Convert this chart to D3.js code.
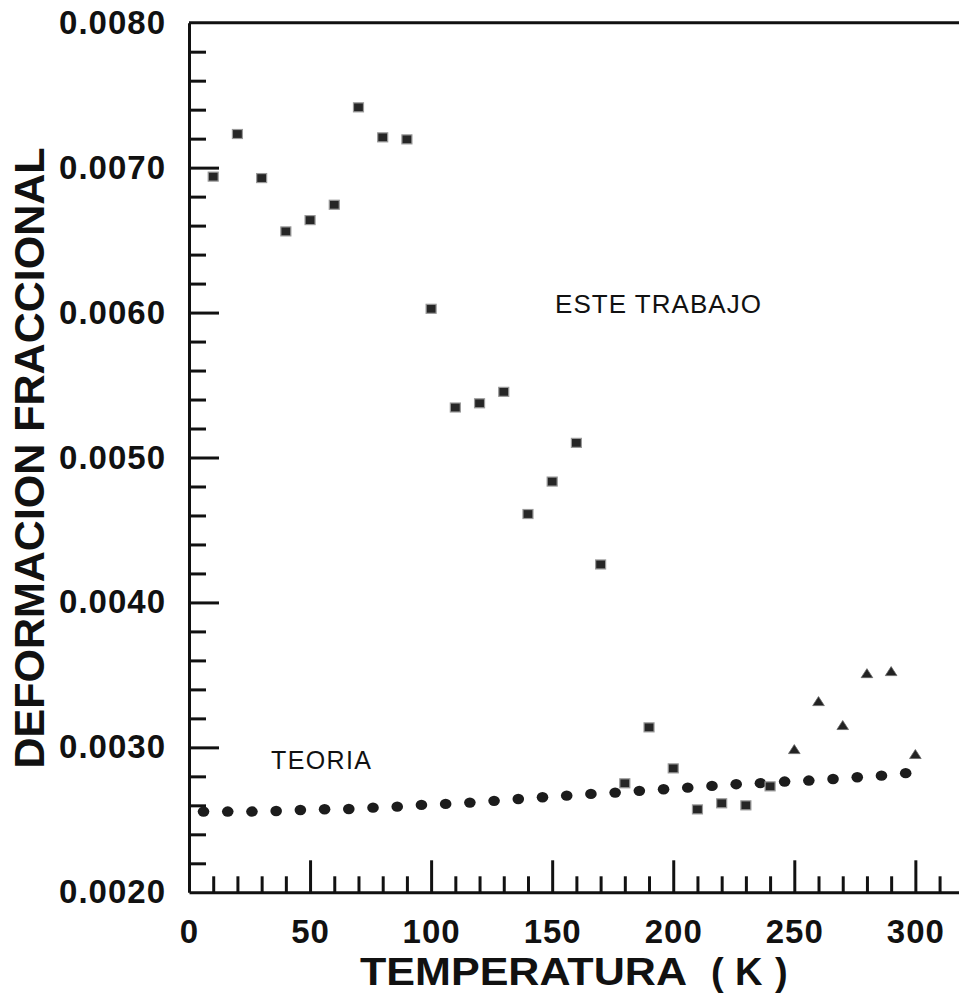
<!DOCTYPE html>
<html>
<head>
<meta charset="utf-8">
<script src="https://cdn.jsdelivr.net/npm/d3@7"></script>
<style>
  body { margin: 0; background: #fff; }
  svg { display: block; font-family: 'Liberation Sans', Arial, sans-serif; }
  .axis path, .axis line { stroke: #111; }
  .axis text { fill: #111; font-weight: bold; font-size: 33px; letter-spacing: 1px; }
</style>
</head>
<body>
<div id="chart"></div>
<script>
// este trabajo (squares)
let tempSquares = [10, 20, 30, 40, 50, 60, 70, 80, 90, 100, 110, 120, 130, 140, 150, 160, 170, 180, 190, 200, 210, 220, 230, 240]
let defSquares = [0.006938, 0.007232, 0.006928, 0.00656, 0.006638, 0.006744, 0.007416, 0.007209, 0.007195,
  0.006026, 0.005345, 0.005374, 0.005453, 0.00461, 0.004834, 0.005101, 0.004262,
  0.002752, 0.003138, 0.002855, 0.002572, 0.002614, 0.0026, 0.002731]

// este trabajo (triangles)
let tempTriangles = [250, 260, 270, 280, 290, 300]
let defTriangles = [0.002986, 0.003317, 0.003152, 0.00351, 0.003524, 0.002952]

// teoria (circles)
let tempTheory = [6, 16, 26, 36, 46, 56, 66, 76, 86, 96, 106, 116, 126, 136, 146, 156, 166, 176, 186, 196,
  206, 216, 226, 236, 246, 256, 266, 276, 286, 296]
let defTheory = [0.002557, 0.002557, 0.002557, 0.002561, 0.002568, 0.002573, 0.002575, 0.002584, 0.002591, 0.002603,
  0.00261, 0.002619, 0.002631, 0.002644, 0.002656, 0.002667, 0.002679, 0.002688, 0.0027, 0.002711,
  0.002722, 0.002734, 0.002746, 0.002753, 0.002764, 0.002771, 0.002782, 0.002794, 0.002805, 0.002822]

let xMajor = [0, 50, 100, 150, 200, 250, 300]
let xMinor = d3.range(10, 330, 10).filter(d => d % 50 !== 0)
let yMajor = [0.002, 0.003, 0.004, 0.005, 0.006, 0.007, 0.008]
let yMinor = d3.range(0.0022, 0.008, 0.0002).filter(d => Math.abs(d * 1000 - Math.round(d * 1000)) > 1e-6)

let width = 959
let height = 996

let svg = d3.select('#chart')
  .append('svg')
  .attr('width', width)
  .attr('height', height)

let x = d3.scaleLinear().domain([0, 330]).range([189, 988])
let y = d3.scaleLinear().domain([0.002, 0.008]).range([892.3, 22.7])

// minor ticks
svg.append('g')
  .attr('class', 'axis')
  .attr('transform', 'translate(0,' + y(0.002) + ')')
  .call(d3.axisBottom(x).tickValues(xMinor).tickSizeInner(-16).tickSizeOuter(0).tickFormat(''))
  .call(g => g.selectAll('line').attr('stroke-width', 3))
  .call(g => g.select('.domain').remove())

svg.append('g')
  .attr('class', 'axis')
  .attr('transform', 'translate(' + x(0) + ',0)')
  .call(d3.axisLeft(y).tickValues(yMinor).tickSizeInner(-17).tickSizeOuter(0).tickFormat(''))
  .call(g => g.selectAll('line').attr('stroke-width', 3))
  .call(g => g.select('.domain').remove())

// major ticks + labels
svg.append('g')
  .attr('class', 'axis')
  .attr('transform', 'translate(0,' + y(0.002) + ')')
  .call(d3.axisBottom(x).tickValues(xMajor).tickSizeInner(-32).tickSizeOuter(0).tickPadding(27).tickFormat(d3.format('d')))
  .call(g => g.selectAll('line').attr('stroke-width', 3))
  .call(g => g.select('.domain').attr('stroke-width', 3))
  .call(g => g.selectAll('.tick').filter(d => d === 0).select('line').remove())

svg.append('g')
  .attr('class', 'axis')
  .attr('transform', 'translate(' + x(0) + ',0)')
  .call(d3.axisLeft(y).tickValues(yMajor).tickSizeInner(-30).tickSizeOuter(0).tickPadding(23).tickFormat(d3.format('.4f')))
  .call(g => g.selectAll('line').attr('stroke-width', 3))
  .call(g => g.select('.domain').attr('stroke-width', 3))
  .call(g => g.selectAll('.tick').filter(d => d === 0.002 || d === 0.008).select('line').remove())

// top frame
svg.append('line')
  .attr('x1', x(0))
  .attr('x2', width)
  .attr('y1', y(0.008))
  .attr('y2', y(0.008))
  .attr('stroke', '#111')
  .attr('stroke-width', 3)

// teoria
svg.selectAll('.theory')
  .data(tempTheory)
  .enter()
  .append('ellipse')
  .attr('class', 'theory')
  .attr('cx', d => x(d))
  .attr('cy', (d, i) => y(defTheory[i]))
  .attr('rx', 5.8)
  .attr('ry', 5.2)
  .attr('fill', '#1c1c1c')

// squares
svg.selectAll('.square')
  .data(tempSquares)
  .enter()
  .append('rect')
  .attr('class', 'square')
  .attr('x', d => x(d) - 5)
  .attr('y', (d, i) => y(defSquares[i]) - 4.5)
  .attr('width', 10)
  .attr('height', 9)
  .attr('fill', '#262626')
  .attr('stroke', '#9a9a9a')
  .attr('stroke-width', 1.2)

// triangles
svg.selectAll('.triangle')
  .data(tempTriangles)
  .enter()
  .append('path')
  .attr('class', 'triangle')
  .attr('transform', (d, i) => 'translate(' + x(d) + ',' + y(defTriangles[i]) + ')')
  .attr('d', 'M0,-4.8L5.8,4.2L-5.8,4.2Z')
  .attr('fill', '#222')
  .attr('stroke', '#666')
  .attr('stroke-width', 0.8)

// annotations
svg.append('text')
  .attr('x', 555)
  .attr('y', 313)
  .attr('font-size', 26)
  .attr('textLength', 206)
  .attr('lengthAdjust', 'spacing')
  .attr('fill', '#111')
  .text('ESTE TRABAJO')

svg.append('text')
  .attr('x', 271)
  .attr('y', 769)
  .attr('font-size', 25)
  .attr('font-weight', 500)
  .attr('textLength', 100)
  .attr('lengthAdjust', 'spacing')
  .attr('fill', '#111')
  .text('TEORIA')

// axis titles
let xTitle = svg.append('text')
  .attr('y', 985)
  .attr('font-size', 38)
  .attr('font-weight', 'bold')
  .attr('fill', '#111')

xTitle.append('tspan')
  .attr('x', 360)
  .attr('textLength', 327)
  .attr('lengthAdjust', 'spacingAndGlyphs')
  .text('TEMPERATURA')

xTitle.append('tspan').attr('x', 711).text('(')
xTitle.append('tspan').attr('x', 735).text('K')
xTitle.append('tspan').attr('x', 775).text(')')

svg.append('text')
  .attr('transform', 'translate(44,458) rotate(-90)')
  .attr('text-anchor', 'middle')
  .attr('font-size', 43)
  .attr('font-weight', 'bold')
  .attr('fill', '#111')
  .text('DEFORMACION FRACCIONAL')
</script>
</body>
</html>
